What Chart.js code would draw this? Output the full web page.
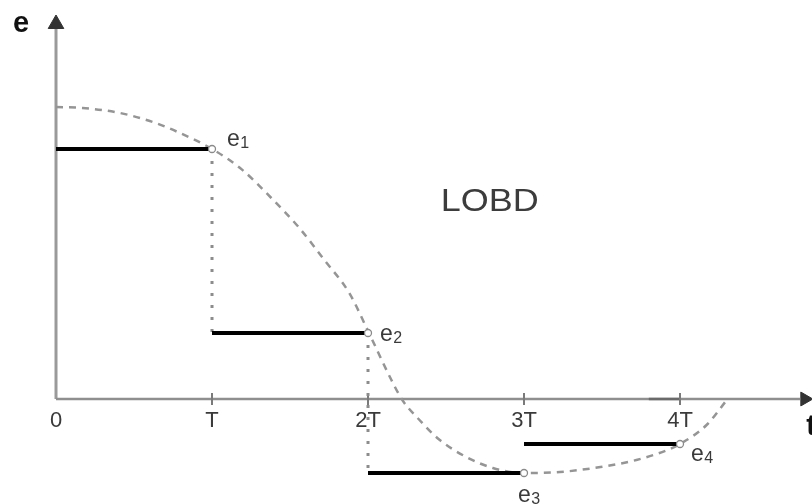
<!DOCTYPE html>
<html><head><meta charset="utf-8">
<script src="https://cdn.jsdelivr.net/npm/chart.js@4.4.0/dist/chart.umd.min.js"></script>
<style>html,body{margin:0;padding:0;background:#fff;}#wrap{width:812px;height:504px;}</style>
</head><body><div id="wrap"><canvas id="c" width="812" height="504"></canvas></div>
<script>
// ---- data (x in units of T, y in arbitrary units of e) ----
const tickValues = [0, 1, 2, 3, 4];
const tickLabels = ["0", "T", "2T", "3T", "4T"];
const stepStarts = [0, 1, 2, 3];
const stepEnds   = [1, 2, 3, 4];
const stepValues = [2.50, 0.66, -0.74, -0.45];
const sampleTimes  = [1, 2, 3, 4];
const sampleValues = [2.50, 0.66, -0.74, -0.45];
const sampleSubs   = ["1", "2", "3", "4"];
const curveTimes  = [0, 0.17, 0.41, 0.62, 0.78, 1.0, 1.18, 1.38, 1.56, 1.72, 1.88, 2.0, 2.15, 2.22, 2.33, 2.46, 2.63, 2.80, 3.0, 3.23, 3.49, 3.72, 3.92, 4.0, 4.17, 4.30];
const curveValues = [2.92, 2.91, 2.86, 2.77, 2.67, 2.50, 2.31, 2.01, 1.71, 1.39, 1.06, 0.68, 0.19, -0.01, -0.21, -0.41, -0.58, -0.69, -0.74, -0.73, -0.68, -0.61, -0.51, -0.45, -0.26, -0.01];
const axisMarkStart = 3.8, axisMarkEnd = 4.0;
const axisLabelY = "e";
const axisLabelX = "t";
const titleText = "LOBD";
const xAxisEnd = 4.77, yAxisEnd = 3.70;

// ---- build library data ----
const stepData = [];
stepStarts.forEach((s, i) => {
  stepData.push({x: s, y: stepValues[i]}, {x: stepEnds[i], y: stepValues[i]}, {x: stepEnds[i], y: null});
});
const dropData = [];
for (let i = 0; i < 2; i++) {
  dropData.push({x: stepEnds[i], y: stepValues[i]}, {x: stepEnds[i], y: stepValues[i + 1]}, {x: stepEnds[i], y: null});
}
const curveData = curveTimes.map((t, i) => ({x: t, y: curveValues[i]}));
const sampleData = sampleTimes.map((t, i) => ({x: t, y: sampleValues[i]}));
const tickData = tickValues.slice(1).map(v => ({x: v, y: 0}));

const textPlugin = {
  id: 'texts',
  afterDraw(chart) {
    const ctx = chart.ctx, xs = chart.scales.x, ys = chart.scales.y;
    const y0 = ys.getPixelForValue(0);
    ctx.save();
    ctx.fillStyle = '#3a3a3a';
    ctx.font = '22px "Liberation Sans", Arial, sans-serif';
    ctx.textAlign = 'center';
    ctx.textBaseline = 'middle';
    tickValues.forEach((v, i) => ctx.fillText(tickLabels[i], xs.getPixelForValue(v), y0 + 22));

    const offs = [[15, -9], [12, 2], [-6, 23], [11, 11]];
    sampleTimes.forEach((t, i) => {
      const px = xs.getPixelForValue(t) + offs[i][0];
      const py = ys.getPixelForValue(sampleValues[i]) + offs[i][1];
      ctx.textAlign = 'left';
      ctx.textBaseline = 'alphabetic';
      ctx.font = '23px "Liberation Sans", Arial, sans-serif';
      ctx.fillText('e', px, py + 6);
      const w = ctx.measureText('e').width;
      ctx.font = '16px "Liberation Sans", Arial, sans-serif';
      ctx.fillText(sampleSubs[i], px + w + 0.5, py + 8);
    });

    ctx.fillStyle = '#111';
    ctx.font = 'bold 29px "Liberation Sans", Arial, sans-serif';
    ctx.textBaseline = 'alphabetic';
    ctx.textAlign = 'center';
    ctx.fillText(axisLabelY, xs.getPixelForValue(0) - 35, ys.getPixelForValue(yAxisEnd) + 3);
    ctx.textAlign = 'left';
    ctx.fillText(axisLabelX, xs.getPixelForValue(xAxisEnd) + 6, y0 + 36);

    ctx.fillStyle = '#3c3c3c';
    ctx.font = '31px "Liberation Sans", Arial, sans-serif';
    ctx.textAlign = 'center';
    ctx.textBaseline = 'middle';
    ctx.translate(xs.getPixelForValue(2.78), ys.getPixelForValue(1.97));
    ctx.scale(1.16, 1);
    ctx.fillText(titleText, 0, 0);
    ctx.restore();
  }
};

new Chart(document.getElementById('c'), {
  type: 'scatter',
  data: {
    datasets: [
      { data: sampleData, showLine: false, pointRadius: 3.5, pointBackgroundColor: '#fff', pointBorderColor: '#8a8a8a', pointBorderWidth: 1.3, order: 0 },
      { data: stepData, showLine: true, spanGaps: false, borderColor: '#000', borderWidth: 4, pointRadius: 0, borderCapStyle: 'butt', order: 1 },
      { data: curveData, showLine: true, borderColor: '#959595', borderWidth: 2.5, borderDash: [7, 6], pointRadius: 0, cubicInterpolationMode: 'monotone', order: 2 },
      { data: dropData, showLine: true, spanGaps: false, borderColor: '#8c8c8c', borderWidth: 3, borderDash: [3, 9], pointRadius: 0, order: 3 },
      { data: tickData, showLine: false, pointStyle: 'line', rotation: 90, pointRadius: 6, pointBorderColor: '#7a7a7a', pointBorderWidth: 2, order: 4 },
      { data: [{x: axisMarkStart, y: 0}, {x: axisMarkEnd, y: 0}], showLine: true, borderColor: '#6a6a6a', borderWidth: 2.5, pointRadius: 0, order: 4 },
      { data: [{x: 0, y: 0}, {x: xAxisEnd, y: 0}], showLine: true, borderColor: '#8f8f8f', borderWidth: 2.5, pointRadius: 0, order: 5 },
      { data: [{x: 0, y: 0}, {x: 0, y: yAxisEnd}], showLine: true, borderColor: '#9a9a9a', borderWidth: 3, pointRadius: 0, order: 5 },
      { data: [{x: 0, y: yAxisEnd + 0.05}], showLine: false, pointStyle: 'triangle', rotation: 0, pointRadius: 9, pointBackgroundColor: '#333', pointBorderColor: '#333', pointBorderWidth: 1, order: 6 },
      { data: [{x: xAxisEnd + 0.03, y: 0}], showLine: false, pointStyle: 'triangle', rotation: 90, pointRadius: 8, pointBackgroundColor: '#333', pointBorderColor: '#333', pointBorderWidth: 1, order: 6 }
    ]
  },
  options: {
    responsive: false,
    devicePixelRatio: 1,
    animation: false,
    layout: { padding: 0, autoPadding: false },
    plugins: { legend: { display: false }, tooltip: { enabled: false } },
    scales: {
      x: { type: 'linear', min: -0.359, max: 4.846, display: false },
      y: { type: 'linear', min: -1.05, max: 3.99, display: false }
    }
  },
  plugins: [textPlugin]
});
</script>
</body></html>
